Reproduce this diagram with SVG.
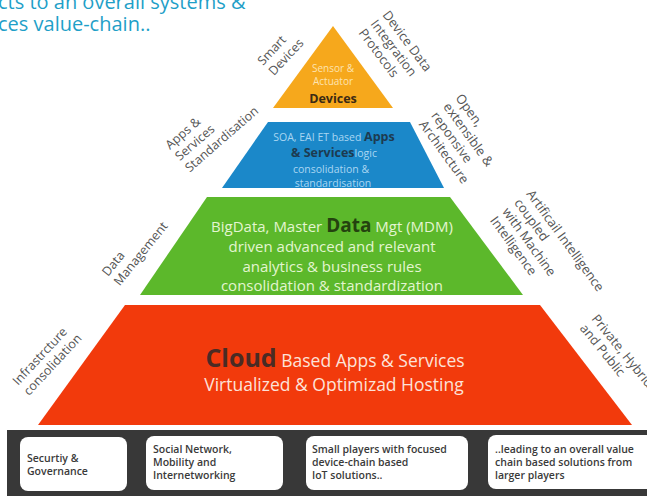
<svg xmlns="http://www.w3.org/2000/svg" width="647" height="496" viewBox="0 0 647 496">
<style>
text{font-family:"Open Sans","Liberation Sans",sans-serif}
.hd{fill:#1f9fc8;font-size:20px}
.lbl{fill:#555;font-size:12.5px}
.lr{fill:#555;font-size:13px}
.box{fill:#fff}
.bt{fill:#3a3a3a;font-size:10.5px;font-weight:600}
.mid{text-anchor:middle}
</style>
<rect width="647" height="496" fill="#fff"/>
<g id="heading">
<text class="hd" x="-2" y="9">cts  to an overall systems &amp;</text>
<text class="hd" x="-2" y="31">ces value-chain..</text>
</g>
<g id="devices">
<polygon points="333,26 393,108 273,108" fill="#f6a81c"/>
<text class="mid" x="333" y="72" font-size="10" fill="#fde3b0">Sensor &amp;</text>
<text class="mid" x="333" y="85" font-size="10" fill="#fde3b0">Actuator</text>
<text class="mid" x="333" y="103" font-size="12.5" font-weight="700" fill="#3b2a14">Devices</text>
</g>
<g id="apps">
<polygon points="268,122 410,122 444,188 222,188" fill="#1b88c9"/>
<text class="mid" x="334" y="141" font-size="10.5" fill="#a9d6f2">SOA, EAI ET based <tspan font-size="12.5" font-weight="700" fill="#1d3b50">Apps</tspan></text>
<text class="mid" x="334" y="157" font-size="10.5" fill="#a9d6f2"><tspan font-size="12.5" font-weight="700" fill="#1d3b50">&amp; Services</tspan>logic</text>
<text class="mid" x="331" y="173" font-size="10.5" fill="#a9d6f2">consolidation &amp;</text>
<text class="mid" x="333" y="187" font-size="10.5" fill="#a9d6f2">standardisation</text>
</g>
<g id="data">
<polygon points="207,197 450,197 523,295 140,295" fill="#5cb82b"/>
<text class="mid" x="332" y="232" font-size="15" fill="#e3f5d0">BigData, Master <tspan font-size="19" font-weight="700" fill="#24420f">Data</tspan> Mgt (MDM)</text>
<text class="mid" x="332" y="252" font-size="15" fill="#e3f5d0">driven advanced and relevant</text>
<text class="mid" x="332" y="272" font-size="15" fill="#e3f5d0">analytics &amp; business rules</text>
<text class="mid" x="332" y="291" font-size="15" fill="#e3f5d0">consolidation &amp; standardization</text>
</g>
<g id="cloud">
<polygon points="125,305 540,305 632,425 38,425" fill="#f23a0c"/>
<text class="mid" x="335" y="367" font-size="17.5" fill="#fde2d9"><tspan font-size="25" font-weight="700" fill="#4a2b24">Cloud</tspan> Based Apps &amp; Services</text>
<text class="mid" x="334" y="391" font-size="17.5" fill="#fde2d9">Virtualized &amp; Optimizad Hosting</text>
</g>
<g id="labels">
<text class="lbl" transform="translate(263,66) rotate(-47)"><tspan x="0">Smart</tspan><tspan x="0" dy="15">Devices</tspan></text>
<text class="lr" transform="translate(382,15) rotate(53)"><tspan x="0">Device Data</tspan><tspan x="0" dy="15">Integration</tspan><tspan x="0" dy="15">Protocols</tspan></text>
<text class="lbl" transform="translate(170,150) rotate(-41)"><tspan x="0">Apps &amp;</tspan><tspan x="0" dy="15">Services</tspan><tspan x="0" dy="15">Standardisation</tspan></text>
<text class="lr" transform="translate(455,98) rotate(54)"><tspan x="0">Open,</tspan><tspan x="0" dy="15">extensible &amp;</tspan><tspan x="0" dy="15">reponsive</tspan><tspan x="0" dy="15">Architecture</tspan></text>
<text class="lbl" transform="translate(108,277) rotate(-51)"><tspan x="0">Data</tspan><tspan x="0" dy="15">Management</tspan></text>
<text class="lr" transform="translate(526,194) rotate(54)"><tspan x="0">Artificail Intelligence</tspan><tspan x="0" dy="15">coupled</tspan><tspan x="0" dy="15">with Machine</tspan><tspan x="0" dy="15">Intelligence</tspan></text>
<text class="lbl" transform="translate(18,386) rotate(-47)"><tspan x="0">Infrastrcture</tspan><tspan x="0" dy="15">consolidation</tspan></text>
<text class="lr" transform="translate(591,319) rotate(51)"><tspan x="0">Private, Hybrid</tspan><tspan x="0" dy="15">and Public</tspan></text>
</g>
<g id="bar">
<rect x="7" y="430" width="640" height="66" fill="#383838"/>
</g>
<g id="box1">
<rect class="box" x="20" y="437" width="107" height="54" rx="8"/>
<text class="bt" x="27" y="462">Securtiy &amp;</text>
<text class="bt" x="27" y="475">Governance</text>
</g>
<g id="box2">
<rect class="box" x="146" y="436" width="137" height="54" rx="8"/>
<text class="bt" x="153" y="453">Social Network,</text>
<text class="bt" x="153" y="466">Mobility and</text>
<text class="bt" x="153" y="479">Internetworking</text>
</g>
<g id="box3">
<rect class="box" x="306" y="436" width="162" height="54" rx="8"/>
<text class="bt" x="312" y="453">Small players with focused</text>
<text class="bt" x="312" y="466"> device-chain based</text>
<text class="bt" x="312" y="479">IoT solutions..</text>
</g>
<g id="box4">
<rect class="box" x="488" y="435" width="170" height="54" rx="8"/>
<text class="bt" x="495" y="453">..leading to an overall value</text>
<text class="bt" x="495" y="466">chain based solutions from</text>
<text class="bt" x="495" y="479">larger players</text>
</g>
</svg>
